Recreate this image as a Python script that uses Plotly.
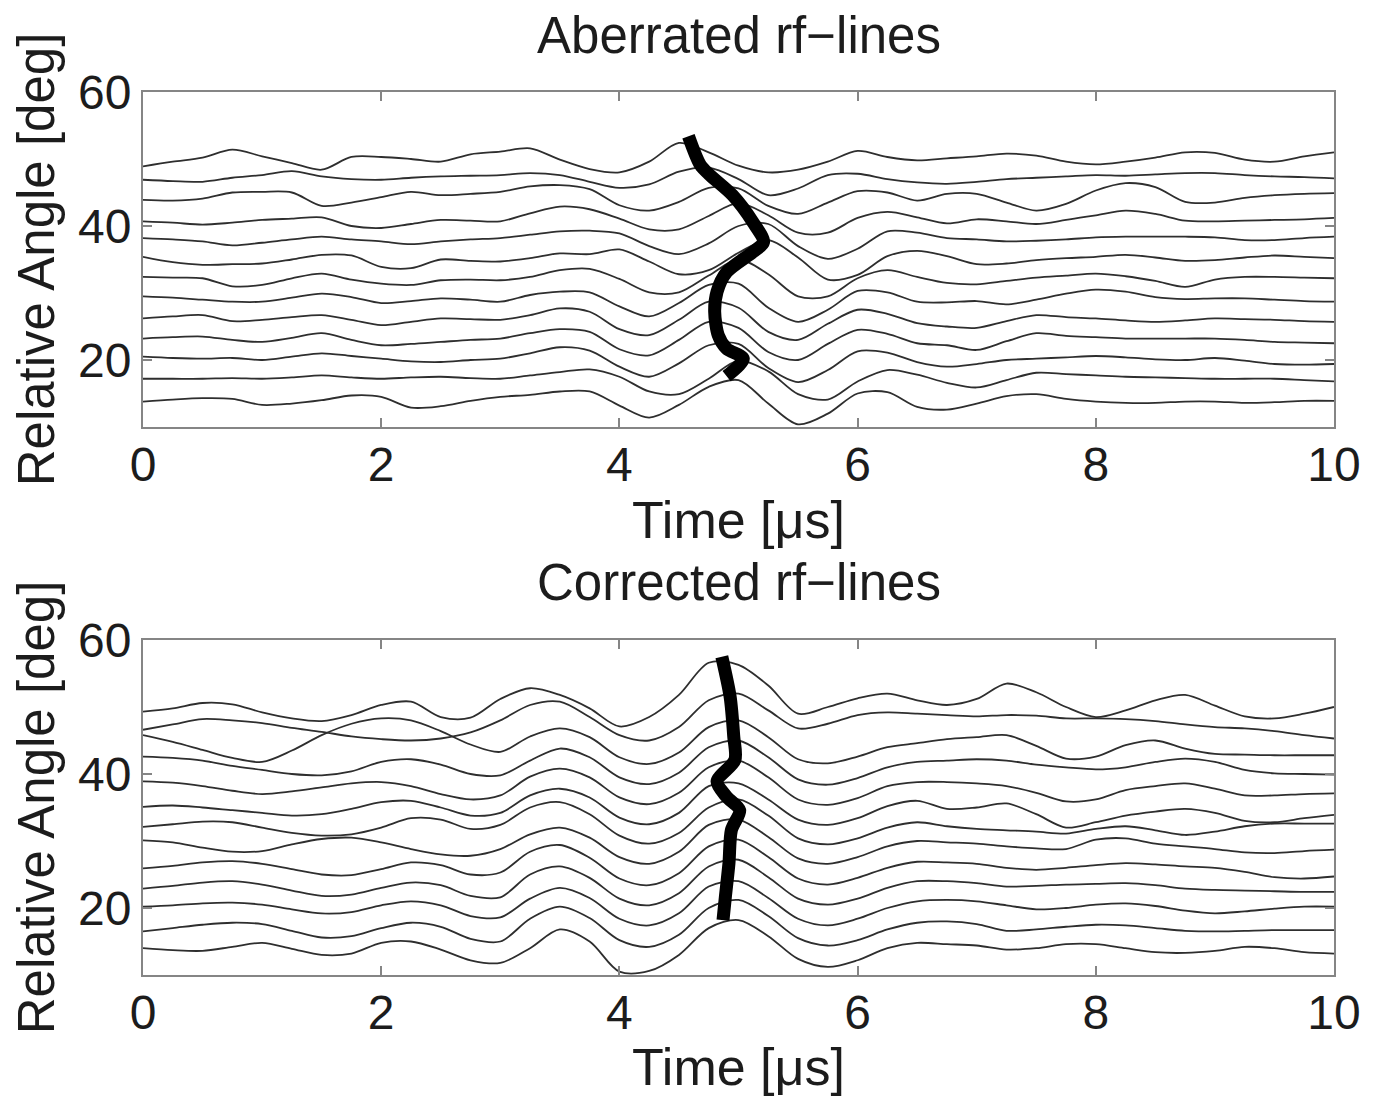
import plotly.graph_objects as go

# ---------------- data ----------------
TIME = [0.0, 0.25, 0.5, 0.75, 1.0, 1.25, 1.5, 1.75, 2.0, 2.25, 2.5, 2.75, 3.0,
        3.25, 3.5, 3.75, 4.0, 4.25, 4.5, 4.75, 5.0, 5.25, 5.5, 5.75, 6.0, 6.25,
        6.5, 6.75, 7.0, 7.25, 7.5, 7.75, 8.0, 8.25, 8.5, 8.75, 9.0, 9.25, 9.5,
        9.75, 10.0]

# Aberrated rf-lines (top panel), top line first
A1 = [48.9, 49.6, 50.2, 51.4, 50.4, 49.4, 48.4, 50.3, 50.3, 50.0, 49.6, 50.7, 51.1, 51.6, 49.9, 48.5, 48.0, 49.6, 52.4, 51.0, 49.0, 48.0, 48.4, 49.6, 51.2, 50.3, 49.8, 50.1, 50.4, 50.8, 50.5, 49.6, 49.2, 49.6, 50.2, 51.0, 50.9, 49.9, 49.6, 50.4, 51.0]
A2 = [46.9, 46.7, 46.6, 47.2, 47.6, 48.2, 47.4, 47.0, 46.9, 47.2, 47.4, 47.5, 47.6, 47.9, 47.6, 46.6, 45.7, 46.2, 48.1, 48.7, 47.0, 44.6, 45.6, 47.6, 47.8, 47.0, 46.5, 46.3, 46.6, 47.0, 47.2, 47.4, 47.6, 47.5, 47.7, 47.9, 47.9, 47.6, 47.4, 47.3, 47.1]
A3 = [43.9, 43.8, 44.1, 45.0, 45.1, 45.0, 43.0, 43.5, 44.3, 45.1, 44.6, 44.8, 45.1, 45.9, 46.1, 45.5, 43.1, 42.3, 43.6, 45.7, 45.6, 43.0, 41.8, 43.5, 45.2, 45.0, 43.8, 44.8, 44.8, 43.5, 42.3, 43.3, 45.3, 46.4, 45.8, 43.6, 43.5, 44.2, 44.6, 44.8, 44.9]
A4 = [40.7, 40.5, 40.2, 40.5, 40.9, 41.1, 41.3, 40.0, 39.7, 40.3, 40.9, 40.8, 40.7, 41.9, 42.9, 42.5, 41.1, 39.5, 39.5, 41.5, 43.4, 41.6, 39.0, 39.0, 41.2, 42.1, 41.3, 40.4, 41.0, 40.7, 40.3, 40.9, 41.6, 42.3, 41.8, 40.8, 40.7, 40.8, 40.9, 41.0, 41.2]
A5 = [38.2, 38.0, 37.7, 37.1, 37.5, 38.0, 38.4, 38.0, 37.7, 37.3, 37.7, 38.0, 38.2, 38.7, 39.2, 39.3, 38.9, 37.0, 35.8, 37.4, 40.0, 40.3, 37.0, 35.1, 36.6, 39.2, 39.0, 38.2, 38.0, 37.7, 37.8, 38.0, 38.3, 38.4, 38.4, 38.4, 38.3, 37.9, 37.9, 38.2, 38.4]
A6 = [35.4, 34.6, 34.2, 34.3, 34.4, 35.0, 35.7, 35.6, 33.9, 33.7, 35.0, 34.8, 34.7, 35.2, 35.9, 35.8, 36.5, 34.7, 32.8, 33.4, 36.0, 37.9, 35.3, 32.0, 32.7, 35.5, 36.3, 35.5, 34.3, 34.4, 34.9, 35.2, 35.4, 35.7, 35.3, 34.8, 34.9, 35.3, 35.6, 35.4, 35.2]
A7 = [32.4, 32.3, 32.2, 31.0, 31.2, 32.2, 32.9, 32.0, 31.4, 31.2, 31.9, 32.0, 31.9, 32.4, 33.4, 33.6, 32.1, 30.1, 30.1, 32.6, 35.0, 32.8, 29.5, 29.5, 32.2, 33.4, 32.4, 31.5, 31.3, 31.8, 32.3, 32.6, 32.9, 32.5, 31.8, 30.9, 32.0, 32.4, 32.4, 32.3, 32.2]
A8 = [29.5, 29.3, 29.0, 28.7, 28.7, 29.3, 29.9, 29.4, 28.5, 28.8, 29.2, 29.0, 28.7, 29.7, 30.2, 30.1, 28.0, 26.5, 28.5, 31.2, 31.4, 27.8, 25.7, 27.5, 30.3, 30.1, 28.7, 28.6, 28.8, 28.3, 29.0, 29.9, 30.5, 30.2, 29.4, 29.1, 29.2, 29.2, 29.0, 28.8, 28.7]
A9 = [26.2, 26.5, 26.7, 25.8, 26.0, 26.4, 26.7, 26.0, 25.2, 25.7, 26.2, 26.1, 26.0, 26.7, 27.7, 27.2, 24.6, 23.7, 26.0, 28.7, 27.8, 24.2, 23.0, 25.4, 27.5, 26.9, 25.5, 25.0, 24.8, 25.8, 26.7, 26.4, 26.2, 25.9, 25.7, 25.9, 26.2, 26.1, 26.0, 25.8, 25.7]
A10 = [23.2, 23.4, 23.5, 23.0, 22.7, 23.3, 24.0, 23.0, 22.2, 22.4, 22.7, 23.0, 23.2, 24.0, 24.6, 24.2, 21.6, 20.7, 23.0, 25.7, 24.8, 21.2, 20.0, 22.4, 24.5, 23.9, 22.5, 22.2, 21.5, 22.8, 24.0, 23.6, 23.4, 23.2, 23.2, 23.2, 23.2, 23.0, 22.7, 22.6, 22.5]
A11 = [20.5, 20.3, 20.2, 20.3, 20.0, 20.5, 21.0, 20.6, 20.2, 19.8, 19.7, 20.0, 20.2, 21.0, 21.9, 21.4, 19.0, 17.5, 19.5, 22.2, 22.4, 18.8, 16.7, 18.5, 21.3, 21.1, 19.7, 19.0, 19.4, 20.0, 20.2, 20.4, 20.6, 20.4, 20.1, 20.0, 20.3, 19.9, 19.4, 19.3, 19.4]
A12 = [17.2, 17.2, 17.2, 17.3, 17.2, 17.4, 17.7, 17.4, 17.2, 17.4, 17.5, 17.3, 17.2, 17.7, 18.2, 18.6, 17.5, 15.3, 14.9, 17.2, 19.9, 18.3, 14.9, 14.1, 16.8, 18.5, 17.8, 16.6, 15.9, 17.0, 18.1, 17.9, 17.7, 17.5, 17.4, 17.3, 17.2, 17.2, 17.2, 17.0, 16.8]
A13 = [13.8, 14.1, 14.3, 14.2, 13.3, 13.5, 14.0, 14.7, 14.5, 12.9, 13.1, 13.9, 14.5, 14.8, 15.3, 15.3, 13.2, 11.4, 13.3, 16.0, 17.0, 13.5, 10.4, 12.0, 15.0, 15.2, 13.0, 12.6, 13.5, 14.6, 14.9, 14.2, 13.8, 13.6, 13.6, 13.8, 13.8, 13.6, 13.7, 13.9, 13.9]

# tracked arrival (thick line), top panel
TRACK_A_T = [4.58, 4.68, 4.76, 4.95, 5.12, 5.21, 5.12, 4.90, 4.82, 4.80, 4.83, 4.90, 5.04, 4.90]
TRACK_A_Y = [53.4, 49.1, 47.6, 44.6, 40.6, 37.6, 36.1, 33.1, 30.2, 27.2, 23.7, 21.7, 20.2, 17.6]

# Corrected rf-lines (bottom panel), top line first
B1 = [49.3, 49.8, 50.6, 50.4, 49.2, 48.3, 47.9, 48.8, 50.3, 50.8, 48.5, 48.4, 51.2, 52.8, 51.8, 49.8, 47.1, 48.5, 51.8, 56.6, 56.3, 53.2, 49.0, 50.0, 51.3, 52.0, 51.0, 50.3, 51.2, 53.5, 52.2, 50.0, 48.5, 49.5, 51.0, 51.8, 50.2, 48.6, 48.3, 49.0, 50.0]
B2 = [46.6, 47.4, 48.2, 48.0, 47.6, 46.9, 46.3, 45.6, 45.2, 45.0, 45.3, 46.2, 48.0, 50.3, 50.8, 48.5, 45.8, 45.0, 47.0, 51.0, 52.0, 49.5, 46.8, 47.5, 48.8, 49.2, 49.0, 48.8, 48.6, 48.8, 48.7, 48.3, 48.3, 48.2, 47.9, 47.4, 47.0, 46.8, 46.4, 45.8, 45.3]
B3 = [45.8, 44.8, 43.6, 42.4, 41.8, 43.5, 45.8, 47.5, 48.3, 48.0, 46.4, 44.4, 43.3, 45.6, 46.8, 45.5, 42.5, 41.5, 43.2, 47.0, 48.0, 45.5, 42.2, 41.6, 42.6, 44.0, 44.6, 45.2, 45.5, 45.8, 44.2, 42.3, 42.6, 44.3, 45.0, 43.8, 43.0, 42.9, 42.8, 42.8, 42.8]
B4 = [42.6, 42.4, 42.0, 41.2, 40.6, 40.0, 39.8, 40.4, 41.8, 42.2, 41.4, 40.0, 39.8, 42.0, 43.8, 42.5, 39.5, 38.5, 40.2, 44.0, 45.0, 42.5, 39.2, 38.4, 39.4, 41.0, 41.8, 42.0, 42.2, 42.0, 41.4, 41.0, 40.7, 41.0, 41.8, 42.3, 41.8, 40.6, 40.1, 40.0, 39.9]
B5 = [38.9, 38.7, 38.2, 37.5, 37.0, 37.4, 38.0, 38.6, 38.8, 38.2, 37.0, 36.2, 36.8, 39.6, 40.8, 39.5, 36.5, 35.5, 37.2, 41.0, 42.0, 39.5, 36.2, 35.4, 36.4, 38.2, 38.8, 38.8, 38.6, 38.2, 37.2, 35.9, 36.2, 37.6, 38.2, 38.6, 37.8, 36.8, 36.8, 37.0, 37.1]
B6 = [35.1, 35.3, 35.0, 34.6, 34.2, 33.8, 34.0, 34.8, 35.8, 36.0, 35.0, 33.8, 34.2, 36.8, 37.8, 36.5, 33.5, 32.5, 34.2, 38.2, 38.6, 36.2, 33.2, 32.4, 33.4, 35.2, 36.0, 34.8, 35.0, 35.6, 34.0, 32.0, 32.8, 33.8, 34.4, 34.8, 34.2, 33.0, 32.8, 33.4, 33.9]
B7 = [32.1, 32.5, 32.9, 32.8, 32.0, 31.2, 30.8, 31.0, 32.0, 33.4, 33.2, 31.8, 32.4, 35.0, 35.8, 34.0, 30.8, 29.6, 31.2, 35.0, 36.2, 33.8, 30.4, 29.5, 30.4, 32.0, 32.8, 32.2, 31.8, 31.6, 31.4, 31.1, 31.8, 32.2, 31.6, 30.9, 31.4, 32.2, 32.6, 32.6, 32.6]
B8 = [30.1, 29.8, 29.0, 28.4, 28.5, 29.5, 30.3, 30.5, 29.8, 28.8, 28.0, 27.8, 28.8, 31.0, 32.0, 30.5, 27.6, 26.6, 28.4, 32.4, 33.2, 30.6, 27.4, 26.6, 27.6, 29.2, 30.0, 29.8, 29.6, 29.2, 28.9, 28.8, 30.2, 30.4, 29.6, 29.2, 28.8, 28.3, 28.2, 28.5, 28.7]
B9 = [25.9, 26.3, 26.8, 27.0, 26.6, 25.8, 25.0, 24.9, 25.8, 26.8, 26.4, 25.0, 25.3, 28.4, 29.4, 27.5, 24.4, 23.4, 25.2, 29.2, 30.2, 27.6, 24.4, 23.5, 24.5, 26.0, 26.9, 26.8, 26.6, 26.0, 25.7, 26.0, 26.4, 26.7, 26.5, 26.2, 26.0, 25.4, 24.6, 24.4, 24.7]
B10 = [22.9, 23.3, 23.8, 24.0, 23.5, 22.6, 21.8, 22.0, 23.0, 23.8, 23.4, 21.8, 21.6, 25.0, 26.2, 24.5, 21.4, 20.4, 22.2, 26.2, 27.2, 24.6, 21.4, 20.5, 21.4, 23.0, 24.0, 24.0, 23.7, 23.2, 23.3, 23.5, 23.6, 23.7, 23.4, 22.9, 22.7, 22.6, 22.5, 22.4, 22.4]
B11 = [20.2, 20.4, 20.7, 20.8, 20.5, 19.8, 19.2, 19.4, 20.4, 21.0, 20.4, 18.8, 18.6, 21.4, 23.0, 21.5, 18.4, 17.4, 19.2, 23.2, 24.0, 21.5, 18.4, 17.4, 18.4, 20.0, 21.0, 21.2, 21.0, 20.4, 19.8, 20.0, 20.5, 20.7, 20.3, 19.6, 19.2, 19.5, 19.9, 20.2, 20.2]
B12 = [16.5, 17.0, 17.5, 17.8, 17.6, 16.6, 15.6, 15.8, 17.0, 17.8, 17.2, 15.4, 15.0, 18.4, 20.2, 18.5, 15.2, 14.2, 16.0, 20.0, 21.2, 18.8, 15.5, 14.4, 15.2, 16.8, 17.8, 18.0, 17.6, 16.6, 16.8, 17.2, 17.5, 17.4, 17.0, 16.6, 16.5, 16.6, 16.7, 16.7, 16.7]
B13 = [14.0, 13.7, 13.6, 14.2, 14.8, 13.9, 13.0, 13.2, 14.8, 15.0, 13.8, 12.2, 11.8, 14.0, 16.8, 15.0, 10.5, 10.6, 13.0, 17.0, 18.2, 15.8, 12.4, 11.2, 12.2, 14.0, 14.8, 14.6, 14.4, 13.8, 14.0, 14.6, 14.6, 14.0, 13.4, 13.3, 13.6, 14.2, 14.0, 13.4, 13.2]

# tracked arrival (thick line), bottom panel
TRACK_B_T = [4.86, 4.93, 4.96, 4.97, 4.82, 4.90, 5.01, 4.94, 4.92, 4.89, 4.87]
TRACK_B_Y = [57.5, 51.5, 45.6, 42.1, 38.9, 36.6, 34.6, 31.6, 26.7, 21.7, 18.2]

TITLES = ["Aberrated rf\u2212lines", "Corrected rf\u2212lines"]
XLABEL = "Time [\u03bcs]"
YLABEL = "Relative Angle [deg]"
X_TICKS = [0, 2, 4, 6, 8, 10]
Y_TICKS = [20, 40, 60]

TOP_LINES = [A1, A2, A3, A4, A5, A6, A7, A8, A9, A10, A11, A12, A13]
BOTTOM_LINES = [B1, B2, B3, B4, B5, B6, B7, B8, B9, B10, B11, B12, B13]

# ---------------- figure ----------------
FONT = "Liberation Sans, Arial, Helvetica, sans-serif"
TEXT_COLOR = "#1c1c1c"
LINE_COLOR = "#2e2e2e"
FRAME = "#858585"

fig = go.Figure()

def add_panel(lines, track_t, track_y, xa, ya):
    for ys in lines:
        fig.add_trace(go.Scatter(
            x=TIME, y=ys, mode="lines", xaxis=xa, yaxis=ya,
            line=dict(color=LINE_COLOR, width=1.8, shape="spline", smoothing=0.9),
            showlegend=False, hoverinfo="skip"))
    fig.add_trace(go.Scatter(
        x=track_t, y=track_y, mode="lines", xaxis=xa, yaxis=ya,
        line=dict(color="#000000", width=13, shape="spline", smoothing=0.8),
        showlegend=False, hoverinfo="skip"))

add_panel(TOP_LINES, TRACK_A_T, TRACK_A_Y, "x", "y")
add_panel(BOTTOM_LINES, TRACK_B_T, TRACK_B_Y, "x2", "y2")

# the page body adds an 8 px offset; the figure is shrunk to compensate
OFF = 8
W, H = 1378 - OFF, 1096 - OFF
ML, MR, MT, MB = 143 - OFF, 44, 92 - OFF, 121
plot_h = H - MT - MB
bottom_px = OFF + H - MB          # pixel row of the lower plot's bottom edge
def py(y_pixel):
    return (bottom_px - y_pixel) / plot_h

top_dom = [py(427), 1.0]
bot_dom = [0.0, py(640)]

def xaxis(anchor):
    return dict(range=[0, 10], tickvals=X_TICKS, ticks="inside", ticklen=9,
                tickwidth=1.5, tickcolor=FRAME, showline=True, linecolor=FRAME,
                linewidth=2, mirror="ticks", showgrid=False, zeroline=False,
                anchor=anchor, automargin=False, ticklabelstandoff=-6,
                tickfont=dict(family=FONT, size=48, color=TEXT_COLOR),
                title=dict(text=XLABEL, standoff=0,
                           font=dict(family=FONT, size=52, color=TEXT_COLOR)))

def yaxis(anchor, dom):
    return dict(range=[10, 60], tickvals=Y_TICKS, ticks="inside", ticklen=9,
                tickwidth=1.5, tickcolor=FRAME, showline=True, linecolor=FRAME,
                linewidth=2, mirror="ticks", showgrid=False, zeroline=False,
                domain=dom, anchor=anchor, automargin=False,
                tickfont=dict(family=FONT, size=48, color=TEXT_COLOR),
                title=dict(text=YLABEL, standoff=10,
                           font=dict(family=FONT, size=51, color=TEXT_COLOR)))

fig.update_layout(
    width=W, height=H,
    margin=dict(l=ML, r=MR, t=MT, b=MB),
    paper_bgcolor="white", plot_bgcolor="white",
    xaxis=xaxis("y"), yaxis=yaxis("x", top_dom),
    xaxis2=xaxis("y2"), yaxis2=yaxis("x2", bot_dom),
    annotations=[
        dict(text=TITLES[0], x=0.5, y=py(35), xref="paper",
             yref="paper", showarrow=False, xanchor="center", yanchor="middle",
             font=dict(family=FONT, size=51, color=TEXT_COLOR)),
        dict(text=TITLES[1], x=0.5, y=py(582), xref="paper",
             yref="paper", showarrow=False, xanchor="center", yanchor="middle",
             font=dict(family=FONT, size=51, color=TEXT_COLOR)),
    ],
)

fig.write_html("out.html")
